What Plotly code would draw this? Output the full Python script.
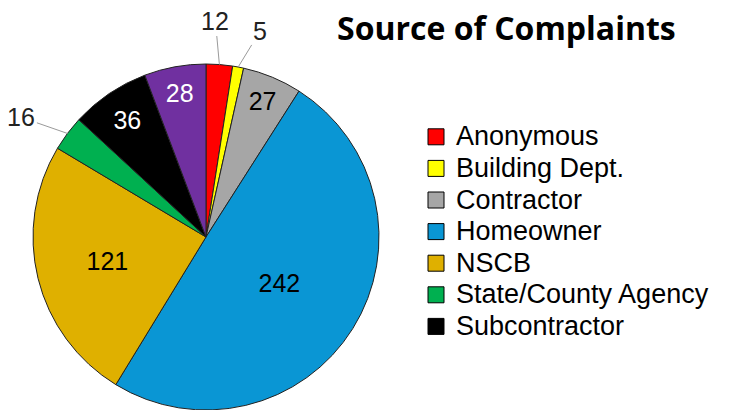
import math
import plotly.graph_objects as go

labels = ["Anonymous", "Building Dept.", "Contractor", "Homeowner", "NSCB",
          "State/County Agency", "Subcontractor", "Other"]
values = [12, 5, 27, 242, 121, 16, 36, 28]
colors = ["#FF0000", "#FFFF00", "#A6A6A6", "#0A96D4", "#DFB000", "#00B050", "#000000", "#7030A0"]
text_colors = ["black", "black", "black", "black", "black", "black", "white", "white"]
text_positions = ["none", "none", "inside", "inside", "inside", "none", "inside", "inside"]
legend_labels = labels[:7]

W, H = 755, 410
cx, cy, r = 206, 237, 173  # pie center / radius in px
FONT = "Liberation Sans, Arial, sans-serif"

fig = go.Figure()
fig.add_trace(go.Pie(
    labels=labels, values=values, sort=False, direction="clockwise", rotation=0,
    marker=dict(colors=colors, line=dict(color="#222222", width=1)),
    textinfo="value", textposition=text_positions,
    insidetextorientation="horizontal",
    textfont=dict(family=FONT, size=25, color=text_colors),
    domain=dict(x=[(cx - r) / W, (cx + r) / W], y=[(H - cy - r) / H, (H - cy + r) / H]),
    showlegend=False, hoverinfo="label+value",
))

for lab, col in zip(legend_labels, colors):
    fig.add_trace(go.Scatter(
        x=[None], y=[None], mode="markers",
        name='<span style="font-size:27px">' + lab + '</span>',
        marker=dict(symbol="square", size=16, color=col, line=dict(color="black", width=1)),
    ))

# outside labels with leader lines
total = sum(values)
offsets = {0: (-4, -44), 1: (22, -36), 5: (-46, -16)}
cum = 0
for i, v in enumerate(values):
    mid = (cum + v / 2) / total * 2 * math.pi
    cum += v
    if i in offsets:
        px = cx + r * math.sin(mid)
        py = cy - r * math.cos(mid)
        ax, ay = offsets[i]
        fig.add_annotation(
            x=px / W, y=1 - py / H, xref="paper", yref="paper",
            text=str(v), showarrow=True, arrowhead=0, arrowwidth=1, arrowcolor="#9A9A9A",
            ax=ax, ay=ay, standoff=0,
            font=dict(family=FONT, size=25, color="#222222"),
        )

fig.add_annotation(
    x=335 / W, y=1 - 27 / H, xref="paper", yref="paper", xanchor="left", yanchor="middle",
    text="<b>Source of Complaints</b>", showarrow=False,
    font=dict(family="Open Sans, sans-serif", size=32, color="black"),
)

fig.update_layout(
    width=W, height=H, margin=dict(l=0, r=0, t=0, b=0),
    paper_bgcolor="white", plot_bgcolor="white",
    xaxis=dict(visible=False), yaxis=dict(visible=False),
    legend=dict(x=416 / W, y=1 - 116 / H, xanchor="left", yanchor="top",
                font=dict(family=FONT, size=22, color="black"),
                bgcolor="rgba(0,0,0,0)", itemclick=False),
)

fig.write_html("out.html", config={"displayModeBar": False},
               post_script="document.body.style.margin='0';")
